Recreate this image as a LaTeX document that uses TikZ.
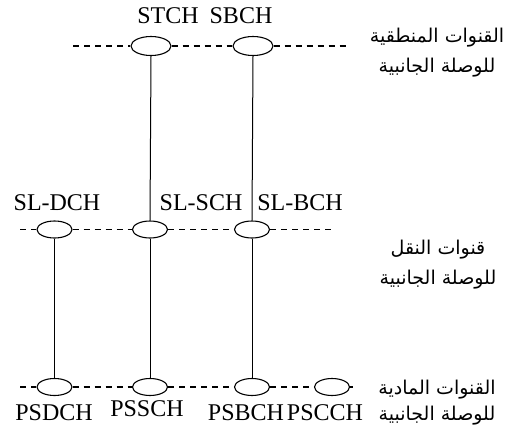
\documentclass[tikz,border=0pt]{standalone}
\usepackage{fontspec}
\usetikzlibrary{shapes.geometric}
\setmainfont{Liberation Serif}
\newfontfamily\arabicfont[Script=Arabic]{DejaVu Sans}
\TeXXeTstate=1
\begin{document}
\begin{tikzpicture}[x=1pt,y=1pt,
  ch/.style={draw,ellipse,minimum width=35pt,minimum height=17pt,inner sep=0pt,line width=1.1pt},
  chbig/.style={ch,minimum width=40pt,minimum height=19pt},
  dsh/.style={dash pattern=on 6pt off 5pt,line width=1.1pt},
  vl/.style={line width=1pt},
  lab/.style={font=\fontsize{24}{28}\selectfont,inner sep=0pt},
  ar/.style={font=\fontsize{19}{30}\selectfont\arabicfont,align=center,inner sep=0pt}]
\useasboundingbox (0,0) rectangle (506,-432);
% top row
\coordinate (tl) at (73,-46);
\coordinate (tr) at (350,-46);
\node[chbig] (t1) at (151,-46) {};
\node[chbig] (t2) at (253,-46) {};
\draw[dsh] (tl) -- (t1.west);
\draw[dsh] (t1.east) -- (t2.west);
\draw[dsh] (t2.east) -- (tr);
% middle row
\coordinate (ml) at (20,-229.5);
\coordinate (mr) at (333,-229.5);
\node[ch] (m1) at (54.5,-229.5) {};
\node[ch] (m2) at (150,-229.5) {};
\node[ch] (m3) at (252,-229.5) {};
\draw[dsh] (ml) -- (m1.west);
\draw[dsh] (m1.east) -- (m2.west);
\draw[dsh] (m2.east) -- (m3.west);
\draw[dsh] (m3.east) -- (mr);
% bottom row
\coordinate (bl) at (20,-387);
\coordinate (br) at (353,-387);
\node[ch] (b1) at (54.5,-387) {};
\node[ch] (b2) at (150,-387) {};
\node[ch] (b3) at (252,-387) {};
\node[ch] (b4) at (332,-387) {};
\draw[dsh] (bl) -- (b1.west);
\draw[dsh] (b1.east) -- (b2.west);
\draw[dsh] (b2.east) -- (b3.west);
\draw[dsh] (b3.east) -- (b4.west);
\draw[dsh] (b4.east) -- (br);
% vertical lines
\draw[vl] (t1.south) -- (m2.north);
\draw[vl] (m2.south) -- (b2.north);
\draw[vl] (t2.south) -- (m3.north);
\draw[vl] (m3.south) -- (b3.north);
\draw[vl] (m1.south) -- (b1.north);
% labels
\node[lab] (lstch) at (168,-16) {STCH};
\node[lab] (lsbch) at (241,-16) {SBCH};
\node[lab] (lsldch) at (57,-203) {SL-DCH};
\node[lab] (lslsch) at (201,-203) {SL-SCH};
\node[lab] (lslbch) at (300,-203) {SL-BCH};
\node[lab] (lpsdch) at (54,-413) {PSDCH};
\node[lab] (lpssch) at (147,-409) {PSSCH};
\node[lab] (lpsbch) at (246,-413) {PSBCH};
\node[lab] (lpscch) at (325,-413) {PSCCH};
% arabic labels
\node[ar] (artop) at (437,-53) {\beginR القنوات المنطقية\endR\\\beginR للوصلة الجانبية\endR};
\node[ar] (armid) at (438,-265) {\beginR قنوات النقل\endR\\\beginR للوصلة الجانبية\endR};
\node[ar,font=\fontsize{19}{26}\selectfont\arabicfont] (arbot) at (437,-403) {\beginR القنوات المادية\endR\\\beginR للوصلة الجانبية\endR};
\end{tikzpicture}
\end{document}
